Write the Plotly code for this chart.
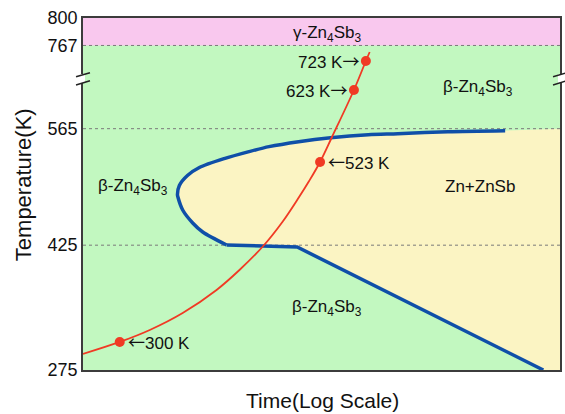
import plotly.graph_objects as go

# ---------------- data ----------------
# y-axis tick temperatures (K)
tick_T = [275, 425, 565, 767, 800]
tick_text = ["275", "425", "565", "767", "800"]
grid_T = [425, 565, 767]

# Blue boundary: upper branch + nose (log-time units, K)
nose_x = [8.85, 7.65, 6.60, 5.98, 5.19, 4.52, 3.90, 3.48, 2.96, 2.44, 2.19, 2.02, 1.98, 1.99, 2.09, 2.30, 2.51, 3.01]
nose_T = [562.6, 561.4, 559.0, 557.8, 554.2, 549.4, 543.4, 537.4, 529.0, 518.3, 508.7, 496.7, 486.0, 482.9, 467.3, 451.7, 440.8, 425.2]
# Blue boundary: lower straight part
low_x = [3.01, 4.49, 9.65]
low_T = [425.2, 422.8, 275.0]

# Red heating curve
red_x = [0.0, 0.77, 1.40, 2.09, 2.80, 3.28, 3.76, 4.18, 4.53, 4.74, 4.97, 5.22, 5.68, 5.93, 6.01]
red_T = [294.3, 308.7, 323.1, 343.5, 371.2, 395.2, 422.8, 452.9, 482.9, 502.1, 525.0, 555.0, 658.9, 729.3, 751.1]

# Marked points on red curve
dot_x = [0.77, 4.97, 5.68, 5.93]
dot_T = [308.7, 525.0, 658.9, 729.3]
dot_num = ["300 K", "523 K", "623 K", "723 K"]
dot_side = ["left", "left", "right", "right"]

# Phase labels
phase_lbl = ["\u03b3-Zn<sub>4</sub>Sb<sub>3</sub>", "\u03b2-Zn<sub>4</sub>Sb<sub>3</sub>",
             "\u03b2-Zn<sub>4</sub>Sb<sub>3</sub>", "Zn+ZnSb", "\u03b2-Zn<sub>4</sub>Sb<sub>3</sub>"]
phase_x = [5.11, 8.29, 1.04, 8.33, 5.11]
phase_T = [781.0, 663.8, 494.9, 495.0, 349.4]

X_MAX = 10.0
T_MIN, T_MAX = 275, 800


# broken temperature axis: 565-767 compressed
def ty(T):
    if T <= 565:
        return T
    if T <= 767:
        return 565 + (T - 565) * 100.0 / 202.0
    return 665 + (T - 767)


FONT = "Liberation Sans, Arial, sans-serif"
ARROW_FONT = "Noto Sans CJK JP"
GREEN = "#C2F8C0"
YELLOW = "#FBF4C3"
PINK = "#F9C8EE"
BLUE = "#0F4FA8"
RED = "#F03A24"
AXC = "#3C3C3C"

fig = go.Figure()

# yellow Zn+ZnSb region
yx = [X_MAX] + nose_x + low_x[1:] + [X_MAX]
yT = [565] + nose_T + low_T[1:] + [T_MIN]
fig.add_trace(go.Scatter(x=yx, y=[ty(t) for t in yT], fill="toself", fillcolor=YELLOW,
                         mode="lines", line=dict(width=0), hoverinfo="skip", showlegend=False))

# dotted reference lines
for g in grid_T:
    fig.add_trace(go.Scatter(x=[0, X_MAX], y=[ty(g), ty(g)], mode="lines",
                             line=dict(color="#7a7a7a", width=1, dash="dot"),
                             hoverinfo="skip", showlegend=False))

# blue boundary
fig.add_trace(go.Scatter(x=nose_x, y=[ty(t) for t in nose_T], mode="lines",
                         line=dict(color=BLUE, width=3.5, shape="spline", smoothing=0.8),
                         showlegend=False))
fig.add_trace(go.Scatter(x=low_x, y=[ty(t) for t in low_T], mode="lines",
                         line=dict(color=BLUE, width=3.5), showlegend=False))

# red curve + dots
fig.add_trace(go.Scatter(x=red_x, y=[ty(t) for t in red_T], mode="lines",
                         line=dict(color=RED, width=1.8, shape="spline", smoothing=1.0),
                         showlegend=False))
fig.add_trace(go.Scatter(x=dot_x, y=[ty(t) for t in dot_T], mode="markers",
                         marker=dict(color=RED, size=10), showlegend=False))

# pink band
fig.add_shape(type="rect", xref="x", yref="y", x0=0, x1=X_MAX, y0=ty(767), y1=ty(800),
              fillcolor=PINK, line=dict(width=0), layer="below")

# annotations for dots
for x, T, s, side in zip(dot_x, dot_T, dot_num, dot_side):
    if side == "left":
        txt = f"<span style='font-family:{ARROW_FONT}'>\u2190</span>{s}"
    else:
        txt = f"{s}<span style='font-family:{ARROW_FONT}'>\u2192</span>"
    fig.add_annotation(x=x, y=ty(T), text=txt, showarrow=False,
                       xanchor=side, yanchor="middle",
                       xshift=6 if side == "left" else -5,
                       font=dict(family=FONT, size=17, color="#111"))

for x, T, s in zip(phase_x, phase_T, phase_lbl):
    fig.add_annotation(x=x, y=ty(T), text=s, showarrow=False, xanchor="center", yanchor="middle",
                       font=dict(family=FONT, size=17, color="#111"))

# axis titles
fig.add_annotation(xref="paper", yref="paper", x=-0.123, y=0.526, text="Temperature(K)",
                   textangle=-90, showarrow=False, xanchor="center", yanchor="middle",
                   font=dict(family=FONT, size=22, color="#111"))
fig.add_annotation(xref="paper", yref="paper", x=0.503, y=-0.088, text="Time(Log Scale)",
                   showarrow=False, xanchor="center", yanchor="middle",
                   font=dict(family=FONT, size=21, color="#111"))

# axis break marks
px = 1.0 / 479.0
for xa in (0.0, 1.0):
    fig.add_shape(type="line", xref="paper", yref="y", x0=xa, x1=xa, y0=619.9, y1=630.7,
                  line=dict(color="white", width=4), layer="above")
    fig.add_shape(type="line", xref="paper", yref="y", x0=xa - 7 * px, x1=xa + 7 * px,
                  y0=627.4, y1=632.3, line=dict(color="#222", width=1.5), layer="above")
    fig.add_shape(type="line", xref="paper", yref="y", x0=xa - 7 * px, x1=xa + 7 * px,
                  y0=617.5, y1=622.6, line=dict(color="#222", width=1.5), layer="above")

fig.update_layout(
    width=565, height=414,
    margin=dict(l=83, r=3, t=18, b=44),
    paper_bgcolor="white", plot_bgcolor=GREEN,
    font=dict(family=FONT, color="#111"),
    xaxis=dict(range=[0, X_MAX], showgrid=False, zeroline=False, showticklabels=False,
               ticks="", showline=True, linecolor=AXC, linewidth=1.5, mirror=True),
    yaxis=dict(range=[ty(T_MIN), ty(T_MAX)], showgrid=False, zeroline=False,
               tickvals=[ty(t) for t in tick_T], ticktext=tick_text, ticks="",
               tickfont=dict(family=FONT, size=18, color="#111"),
               showline=True, linecolor=AXC, linewidth=1.5, mirror=True),
)

fig.write_html("out.html")
